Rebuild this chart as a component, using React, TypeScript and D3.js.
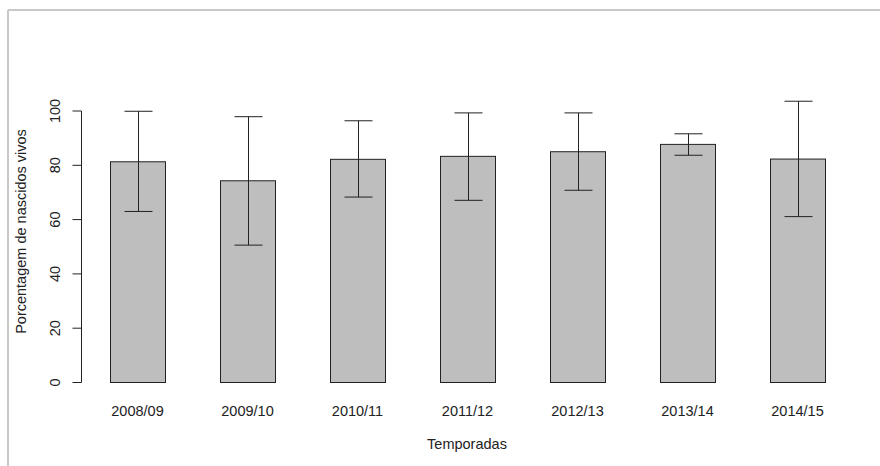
import React from "react";
import * as d3 from "d3";

const seasons = ["2008/09", "2009/10", "2010/11", "2011/12", "2012/13", "2013/14", "2014/15"];
const meanValues = [81.3, 74.3, 82.2, 83.3, 85.0, 87.7, 82.3];
const upperValues = [99.9, 97.9, 96.4, 99.3, 99.3, 91.6, 103.6];
const lowerValues = [63.0, 50.6, 68.3, 67.1, 70.8, 83.7, 61.1];
const yTicks = [0, 20, 40, 60, 80, 100];

const W = 880;
const H = 466;

export default function App() {
  const y = d3.scaleLinear().domain([0, 100]).range([382.5, 111]);
  const x = d3
    .scaleBand<string>()
    .domain(seasons)
    .range([55, 880])
    .paddingInner(0.5)
    .paddingOuter(0.5);
  const bw = x.bandwidth();
  const font = "'Liberation Sans', Arial, sans-serif";
  const fs = 14.5;
  const textColor = "#222";

  return (
    <svg
      width={W}
      height={H}
      style={{ position: "absolute", left: 0, top: 0, background: "#fff" }}
    >
      {/* outer frame */}
      <line x1={8} y1={10} x2={W} y2={10} stroke="#c8c8c8" strokeWidth={2} />
      <line x1={8} y1={10} x2={8} y2={H} stroke="#c8c8c8" strokeWidth={2} />

      {/* bars */}
      {seasons.map((s, i) => (
        <rect
          key={s}
          x={x(s)! + 0.5}
          y={y(meanValues[i])}
          width={bw}
          height={y(0) - y(meanValues[i])}
          fill="#bebebe"
          stroke="#222"
          strokeWidth={1}
        />
      ))}

      {/* error bars */}
      {seasons.map((s, i) => {
        const cx = Math.round(x(s)! + bw / 2) + 0.5;
        return (
          <g key={s} stroke="#222" strokeWidth={1}>
            <line x1={cx} x2={cx} y1={y(upperValues[i])} y2={y(lowerValues[i])} />
            <line x1={cx - 14} x2={cx + 14} y1={y(upperValues[i])} y2={y(upperValues[i])} />
            <line x1={cx - 14} x2={cx + 14} y1={y(lowerValues[i])} y2={y(lowerValues[i])} />
          </g>
        );
      })}

      {/* y axis */}
      <line x1={81.5} x2={81.5} y1={y(0)} y2={y(100)} stroke="#222" />
      {yTicks.map((t) => (
        <g key={t}>
          <line x1={72.5} x2={81.5} y1={y(t)} y2={y(t)} stroke="#222" />
          <text
            transform={`translate(60,${y(t)}) rotate(-90)`}
            textAnchor="middle"
            fontFamily={font}
            fontSize={fs}
            fill={textColor}
          >
            {t}
          </text>
        </g>
      ))}

      {/* x labels */}
      {seasons.map((s) => (
        <text
          key={s}
          x={x(s)! + bw / 2}
          y={415.5}
          textAnchor="middle"
          fontFamily={font}
          fontSize={fs}
          fill={textColor}
        >
          {s}
        </text>
      ))}

      {/* axis titles */}
      <text
        x={467}
        y={448.5}
        textAnchor="middle"
        fontFamily={font}
        fontSize={fs}
        fill={textColor}
      >
        Temporadas
      </text>
      <text
        transform="translate(26,231.5) rotate(-90)"
        textAnchor="middle"
        fontFamily={font}
        fontSize={fs}
        fill={textColor}
      >
        Porcentagem de nascidos vivos
      </text>
    </svg>
  );
}
